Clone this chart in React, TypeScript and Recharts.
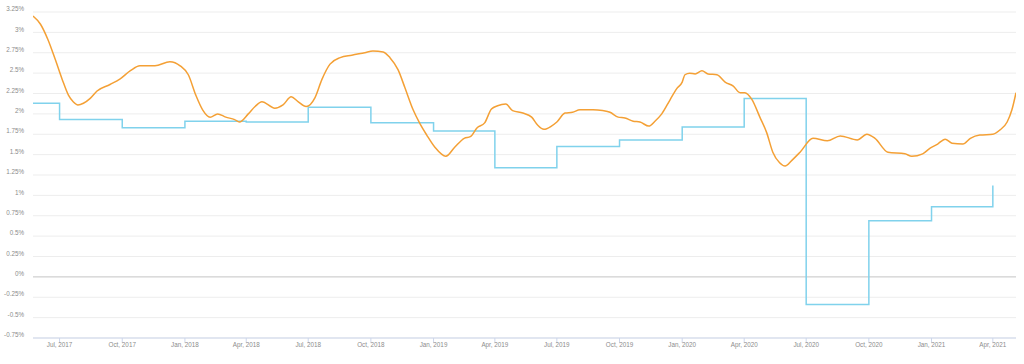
import { LineChart, Line, XAxis, YAxis, CartesianGrid, ReferenceLine } from "recharts";

const orangeDates = [
  "2017-05-23", "2017-06-03", "2017-06-14", "2017-06-25", "2017-07-05", "2017-07-14", "2017-07-21", "2017-07-28",
  "2017-08-05", "2017-08-15", "2017-08-25", "2017-09-13", "2017-09-28", "2017-10-13", "2017-10-27", "2017-11-18",
  "2017-12-10", "2017-12-25",
  "2018-01-06", "2018-01-17", "2018-01-27", "2018-02-07", "2018-02-18", "2018-03-02", "2018-03-15", "2018-03-22",
  "2018-04-04", "2018-04-14", "2018-04-24", "2018-05-13", "2018-05-25", "2018-06-06", "2018-06-16", "2018-06-28",
  "2018-07-11", "2018-07-21", "2018-08-02", "2018-08-17", "2018-09-03", "2018-09-22", "2018-10-04", "2018-10-19",
  "2018-10-29", "2018-11-10", "2018-11-20", "2018-12-02", "2018-12-12", "2018-12-22",
  "2019-01-03", "2019-01-19", "2019-02-01", "2019-02-15", "2019-02-24", "2019-03-06", "2019-03-17", "2019-03-27",
  "2019-04-05", "2019-04-17", "2019-04-27", "2019-05-12", "2019-05-25", "2019-06-03", "2019-06-12", "2019-06-23",
  "2019-07-01", "2019-07-13", "2019-07-24", "2019-08-04", "2019-08-23", "2019-09-06", "2019-09-17", "2019-09-29",
  "2019-10-09", "2019-10-21", "2019-10-31", "2019-11-13", "2019-11-22", "2019-12-02", "2019-12-14", "2019-12-24",
  "2020-01-01", "2020-01-05", "2020-01-12", "2020-01-20", "2020-01-30", "2020-02-08", "2020-02-21", "2020-03-04",
  "2020-03-16", "2020-03-26", "2020-04-02", "2020-04-12", "2020-04-24", "2020-05-04", "2020-05-13", "2020-05-23",
  "2020-05-31", "2020-06-10", "2020-06-22", "2020-07-11", "2020-08-01", "2020-08-20", "2020-09-14", "2020-09-28",
  "2020-10-10", "2020-10-29", "2020-11-23", "2020-12-03", "2020-12-19", "2020-12-30",
  "2021-01-10", "2021-01-21", "2021-01-31", "2021-02-16", "2021-02-27", "2021-03-13", "2021-04-01", "2021-04-11",
  "2021-04-22", "2021-04-29", "2021-05-05",
];

const orangeRates = [
  3.2, 3.1, 2.91, 2.66, 2.42, 2.23, 2.15, 2.11, 2.13, 2.19, 2.28, 2.36, 2.43, 2.53, 2.59, 2.59, 2.64, 2.59,
  2.48, 2.23, 2.05, 1.96, 2.0, 1.96, 1.93, 1.9, 2.0, 2.09, 2.15, 2.07, 2.11, 2.21, 2.15, 2.09, 2.2, 2.42, 2.61, 2.69,
  2.72, 2.75, 2.77, 2.76, 2.69, 2.54, 2.32, 2.05, 1.88, 1.74,
  1.59, 1.48, 1.59, 1.7, 1.72, 1.83, 1.89, 2.06, 2.1, 2.12, 2.04, 2.01, 1.96, 1.86, 1.81, 1.85, 1.9, 2.01, 2.02, 2.05,
  2.05, 2.04, 2.02, 1.96, 1.95, 1.91, 1.9, 1.85, 1.91, 2.0, 2.17, 2.31,
  2.39, 2.48, 2.5, 2.49, 2.53, 2.49, 2.48, 2.39, 2.34, 2.26, 2.26, 2.18, 1.96, 1.77, 1.53, 1.4, 1.36, 1.43, 1.53, 1.7,
  1.67, 1.73, 1.68, 1.75, 1.7, 1.53, 1.51, 1.48, 1.51, 1.58,
  1.63, 1.69, 1.64, 1.63, 1.7, 1.74, 1.75, 1.8, 1.9, 2.05, 2.26,
];

const blueDates = [
  "2017-05-23", "2017-07-01", "2017-10-01", "2018-01-01", "2018-04-01", "2018-07-01", "2018-10-01", "2019-01-01",
  "2019-04-01", "2019-07-01", "2019-10-01", "2020-01-01", "2020-04-01", "2020-07-01", "2020-10-01", "2021-01-01",
  "2021-04-01",
];

const blueRates = [2.13, 1.93, 1.83, 1.91, 1.9, 2.08, 1.89, 1.79, 1.34, 1.6, 1.68, 1.84, 2.19, -0.34, 0.69, 0.86, 1.12];

const tickDates = [
  "2017-07-01", "2017-10-01", "2018-01-01", "2018-04-01", "2018-07-01", "2018-10-01", "2019-01-01", "2019-04-01",
  "2019-07-01", "2019-10-01", "2020-01-01", "2020-04-01", "2020-07-01", "2020-10-01", "2021-01-01", "2021-04-01",
];

const yTicks = [-0.75, -0.5, -0.25, 0, 0.25, 0.5, 0.75, 1, 1.25, 1.5, 1.75, 2, 2.25, 2.5, 2.75, 3, 3.25];

const MONTHS = ["Jan", "Feb", "Mar", "Apr", "May", "Jun", "Jul", "Aug", "Sep", "Oct", "Nov", "Dec"];
const FONT = "'Liberation Sans', Arial, sans-serif";
const LABEL = "#8c8c8c";

const orangeData = orangeDates.map((d, i) => ({ t: Date.parse(d), v: orangeRates[i] }));
const blueData = blueDates.map((d, i) => ({ t: Date.parse(d), v: blueRates[i] }));

function XTick({ x, y, payload }: any) {
  const d = new Date(payload.value);
  return (
    <text x={x} y={y} dy="0.71em" textAnchor="middle" fontSize={6.3} fill={LABEL} fontFamily={FONT}>
      {`${MONTHS[d.getUTCMonth()]}, ${d.getUTCFullYear()}`}
    </text>
  );
}

function YTick({ x, y, payload }: any) {
  return (
    <text x={x} y={y - 3} dy="0.35em" textAnchor="end" fontSize={6.3} fill={LABEL} fontFamily={FONT}>
      {`${payload.value}%`}
    </text>
  );
}

export default function App() {
  return (
    <div style={{ position: "absolute", left: 0, top: 0, background: "#fff" }}>
      <LineChart width={1024} height={364} margin={{ top: 12, right: 8, left: 0, bottom: 0 }}>
        <CartesianGrid vertical={false} stroke="#ededed" />
        <XAxis
          dataKey="t"
          type="number"
          scale="time"
          domain={[Date.parse("2017-05-23"), Date.parse("2021-05-05")]}
          ticks={tickDates.map((d) => Date.parse(d))}
          interval={0}
          tick={<XTick />}
          height={26}
          tickSize={5}
          tickMargin={0}
          axisLine={{ stroke: "#ccd6eb" }}
          tickLine={{ stroke: "#ccd6eb" }}
          allowDataOverflow
        />
        <YAxis
          type="number"
          domain={[-0.75, 3.25]}
          ticks={yTicks}
          width={33}
          tick={<YTick />}
          tickSize={0}
          tickMargin={9}
          axisLine={false}
          tickLine={false}
          interval={0}
        />
        <ReferenceLine y={0} stroke="#cccccc" strokeWidth={1} />
        <Line
          data={blueData}
          dataKey="v"
          type="stepAfter"
          stroke="#80d2ec"
          strokeWidth={1.5}
          dot={false}
          isAnimationActive={false}
        />
        <Line
          data={orangeData}
          dataKey="v"
          type="monotone"
          stroke="#f4a035"
          strokeWidth={1.5}
          dot={false}
          isAnimationActive={false}
        />
      </LineChart>
    </div>
  );
}
